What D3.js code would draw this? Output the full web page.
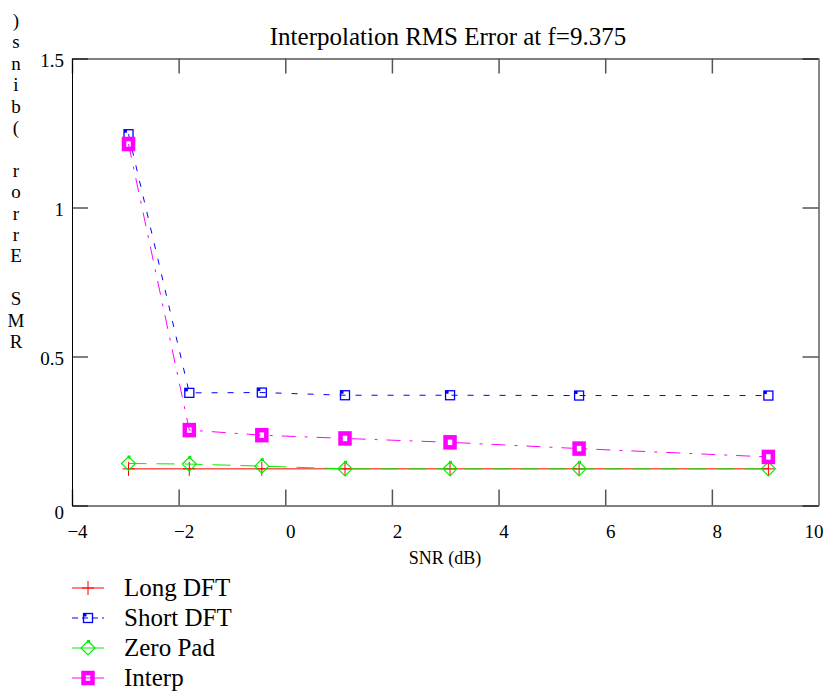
<!DOCTYPE html>
<html>
<head>
<meta charset="utf-8">
<script src="https://cdn.jsdelivr.net/npm/d3@7"></script>
<style>
  body { margin: 0; background: #fff; }
  svg, svg text { font-family: "Liberation Serif", "Times New Roman", serif; }
</style>
</head>
<body>
<div id="chart"></div>
<script>
// DATA
const snr = [-2.94, -1.80, -0.44, 1.12, 3.09, 5.51, 9.06];
const longDft = [0.123, 0.123, 0.123, 0.123, 0.123, 0.123, 0.123];
const shortDft = [1.246, 0.378, 0.379, 0.370, 0.370, 0.369, 0.369];
const zeroPad = [0.141, 0.139, 0.132, 0.123, 0.123, 0.123, 0.123];
const interp = [1.213, 0.253, 0.236, 0.225, 0.212, 0.191, 0.163];

const xTicks = [-4, -2, 0, 2, 4, 6, 8, 10];
const yTicks = [0, 0.5, 1, 1.5];
const seriesNames = ["Long DFT", "Short DFT", "Zero Pad", "Interp"];
const title = "Interpolation RMS Error at f=9.375";
const xLabel = "SNR (dB)";
const yLabel = "RMS Error (bins)";

// CHART VARIABLES
const width = 829;
const height = 696;
const font = "Liberation Serif";
const plot = {left: 72, right: 818.5, top: 58.5, bottom: 505.5};

const svg = d3.select("#chart")
    .append("svg")
        .attr("width", width)
        .attr("height", height)
        .attr("font-family", font);

const x = d3.scaleLinear().domain([-4, 10]).range([plot.left, plot.right]);
const y = d3.scaleLinear().domain([0, 1.5]).range([plot.bottom, plot.top]);

// series styles
const styles = [
    {values: longDft, color: "#ff0000", dash: null, marker: "plus"},
    {values: shortDft, color: "#0000ff", dash: "6,10", marker: "square"},
    {values: zeroPad, color: "#00ee00", dash: "18,10", marker: "diamond"},
    {values: interp, color: "#ff00ff", dash: "14,9,3,9", marker: "thick"}
];

// axes
const tickColor = "#555";
svg.append("g")
    .attr("transform", `translate(0,${plot.bottom})`)
    .call(d3.axisBottom(x).tickValues(xTicks).tickSizeInner(-16).tickSizeOuter(0).tickPadding(19))
    .attr("font-family", font)
    .call(g => g.select(".domain").attr("stroke", "#000"))
    .call(g => g.selectAll(".tick line").attr("stroke", tickColor).attr("stroke-width", 1.5))
    .call(g => g.selectAll(".tick text")
        .attr("font-size", 19).attr("font-family", font).attr("fill", "#000")
        .attr("dx", d => d == 10 ? -5 : 5));

svg.append("g")
    .attr("transform", `translate(0,${plot.top})`)
    .call(d3.axisTop(x).tickValues(xTicks).tickSizeInner(-15).tickSizeOuter(0).tickFormat(""))
    .call(g => g.select(".domain").attr("stroke", "#000"))
    .call(g => g.selectAll(".tick line").attr("stroke", tickColor).attr("stroke-width", 1.5));

svg.append("g")
    .attr("transform", `translate(${plot.left},0)`)
    .call(d3.axisLeft(y).tickValues(yTicks).tickSizeInner(-16).tickSizeOuter(0).tickPadding(8)
        .tickFormat(d3.format("")))
    .attr("font-family", font)
    .call(g => g.select(".domain").attr("stroke", "#000"))
    .call(g => g.selectAll(".tick line").attr("stroke", "#000").attr("stroke-width", 1))
    .call(g => g.selectAll(".tick text")
        .attr("font-size", 19).attr("font-family", font).attr("fill", "#000")
        .attr("dy", d => d == 0 ? "0.7em" : "0.4em"));

svg.append("g")
    .attr("transform", `translate(${plot.right},0)`)
    .call(d3.axisRight(y).tickValues(yTicks).tickSizeInner(-16).tickSizeOuter(0).tickFormat(""))
    .call(g => g.select(".domain").attr("stroke", "#888").attr("stroke-width", 2))
    .call(g => g.selectAll(".tick line").attr("stroke", "#000").attr("stroke-width", 1));

// title and labels
svg.append("text")
    .attr("x", 448).attr("y", 45)
    .attr("text-anchor", "middle")
    .attr("font-size", 25)
    .text(title);

svg.append("text")
    .attr("x", 445).attr("y", 564)
    .attr("text-anchor", "middle")
    .attr("font-size", 18)
    .text(xLabel);

// y label: upright characters stacked, read bottom to top
const yChars = yLabel.split("").reverse();
svg.append("g")
    .selectAll("text")
    .data(yChars)
    .join("text")
        .attr("x", 16)
        .attr("y", (d, i) => 27 + i * 21.4)
        .attr("text-anchor", "middle")
        .attr("font-size", 19)
        .text(d => d);

// markers
function drawMarker(g, type, color, cx, cy) {
    if (type == "plus") {
        g.append("path")
            .attr("d", `M${cx - 6},${cy}H${cx + 6}M${cx},${cy - 7}V${cy + 7}`)
            .attr("stroke", color).attr("stroke-width", 1).attr("fill", "none");
    } else if (type == "square") {
        g.append("rect")
            .attr("x", cx - 4.5).attr("y", cy - 4.5).attr("width", 9).attr("height", 9)
            .attr("stroke", color).attr("stroke-width", 1.3).attr("fill", "none");
        g.append("rect")
            .attr("x", cx - 4.5).attr("y", cy - 4.5).attr("width", 3).attr("height", 3)
            .attr("fill", color);
    } else if (type == "diamond") {
        g.append("path")
            .attr("d", `M${cx},${cy - 7}L${cx + 7},${cy}L${cx},${cy + 7}L${cx - 7},${cy}Z`)
            .attr("stroke", color).attr("stroke-width", 1.2).attr("fill", "none");
        g.append("rect")
            .attr("x", cx - 1).attr("y", cy - 8).attr("width", 3).attr("height", 3)
            .attr("fill", color);
    } else {
        g.append("rect")
            .attr("x", cx - 4.5).attr("y", cy - 5).attr("width", 9).attr("height", 10)
            .attr("stroke", color).attr("stroke-width", 4.5).attr("fill", "none");
    }
}

// lines
const line = d3.line()
    .x(d => x(d[0]))
    .y(d => y(d[1]));

styles.forEach(s => {
    const pts = snr.map((v, i) => [v, s.values[i]]);
    const g = svg.append("g");
    g.append("path")
        .datum(pts)
        .attr("d", line)
        .attr("fill", "none")
        .attr("stroke", s.color)
        .attr("stroke-width", 1)
        .attr("stroke-dasharray", s.dash);
    pts.forEach(p => drawMarker(g, s.marker, s.color, x(p[0]), y(p[1])));
});

// legend
const legend = svg.append("g");
seriesNames.forEach((name, i) => {
    const s = styles[i];
    const ly = 588 + i * 30;
    legend.append("line")
        .attr("x1", 72).attr("x2", 104)
        .attr("y1", ly).attr("y2", ly)
        .attr("stroke", s.color)
        .attr("stroke-width", 1)
        .attr("stroke-dasharray", i == 1 ? "6,4" : null);
    drawMarker(legend, s.marker, s.color, 88, ly);
    legend.append("text")
        .attr("x", 124).attr("y", ly + 8)
        .attr("font-size", 25)
        .text(name);
});
</script>
</body>
</html>
